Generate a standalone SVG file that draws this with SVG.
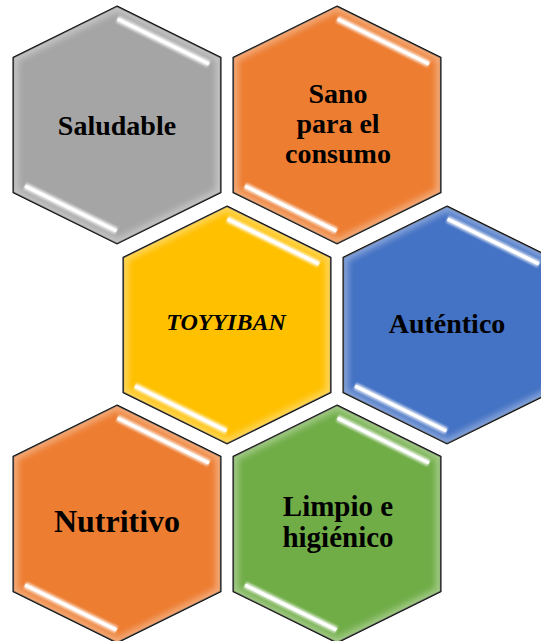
<svg xmlns="http://www.w3.org/2000/svg" xmlns:xlink="http://www.w3.org/1999/xlink" width="541" height="641" viewBox="0 0 541 641">
<style>
.hex{stroke:#000;stroke-width:1.6;stroke-linejoin:miter}
.glow{fill:none;stroke:#fff;stroke-width:10;opacity:0.35;filter:url(#blur3)}
.hl{stroke:#fff;stroke-width:7;opacity:0.7;filter:url(#blur1)}
.hlc{stroke:#fff;stroke-width:3.5}
.lbl{font-family:"Liberation Serif","Times New Roman",serif;font-weight:bold;font-size:28px;fill:#000;text-anchor:middle}
.it{font-style:italic;font-size:24px}
</style>
<defs>
<path id="hexshape" d="M0,-118.7 L103.7,-67.5 L103.7,67.5 L0,118.7 L-103.7,67.5 L-103.7,-67.5 Z"/>
<clipPath id="hexclip"><use xlink:href="#hexshape"/></clipPath>
<filter id="blur3" x="-20%" y="-20%" width="140%" height="140%"><feGaussianBlur stdDeviation="3"/></filter>
<filter id="blur1" x="-20%" y="-50%" width="140%" height="200%"><feGaussianBlur stdDeviation="1.2"/></filter>
<g id="deco">
<g clip-path="url(#hexclip)"><use xlink:href="#hexshape" class="glow"/></g>
<line x1="0.5" y1="-106" x2="92" y2="-61" class="hl"/>
<line x1="0.5" y1="-106" x2="92" y2="-61" class="hlc"/>
<line x1="-92" y1="61" x2="-0.5" y2="106" class="hl"/>
<line x1="-92" y1="61" x2="-0.5" y2="106" class="hlc"/>
</g>
</defs>
<rect width="541" height="641" fill="#fff"/>
<g id="node-saludable" transform="translate(117,125)">
<use xlink:href="#hexshape" class="hex" fill="#A5A5A5"/>
<use xlink:href="#deco"/>
<text class="lbl" x="0" y="10">Saludable</text>
</g>
<g id="node-sano" transform="translate(337,125)">
<use xlink:href="#hexshape" class="hex" fill="#ED7D31"/>
<use xlink:href="#deco"/>
<text class="lbl" x="1" y="-22">Sano</text>
<text class="lbl" x="1" y="8">para el</text>
<text class="lbl" x="1" y="38">consumo</text>
</g>
<g id="node-toyyiban" transform="translate(227,325)">
<use xlink:href="#hexshape" class="hex" fill="#FFC000"/>
<use xlink:href="#deco"/>
<text class="lbl it" x="-1" y="5">TOYYIBAN</text>
</g>
<g id="node-autentico" transform="translate(447,325)">
<use xlink:href="#hexshape" class="hex" fill="#4472C4"/>
<use xlink:href="#deco"/>
<text class="lbl" x="0" y="8">Auténtico</text>
</g>
<g id="node-nutritivo" transform="translate(117,524)">
<use xlink:href="#hexshape" class="hex" fill="#ED7D31"/>
<use xlink:href="#deco"/>
<text class="lbl" style="font-size:32px" x="0" y="8">Nutritivo</text>
</g>
<g id="node-limpio" transform="translate(337,524)">
<use xlink:href="#hexshape" class="hex" fill="#70AD47"/>
<use xlink:href="#deco"/>
<text class="lbl" style="font-size:29px" x="1" y="-8">Limpio e</text>
<text class="lbl" style="font-size:29px" x="1" y="23">higiénico</text>
</g>
<g id="connectors"/>
</svg>
